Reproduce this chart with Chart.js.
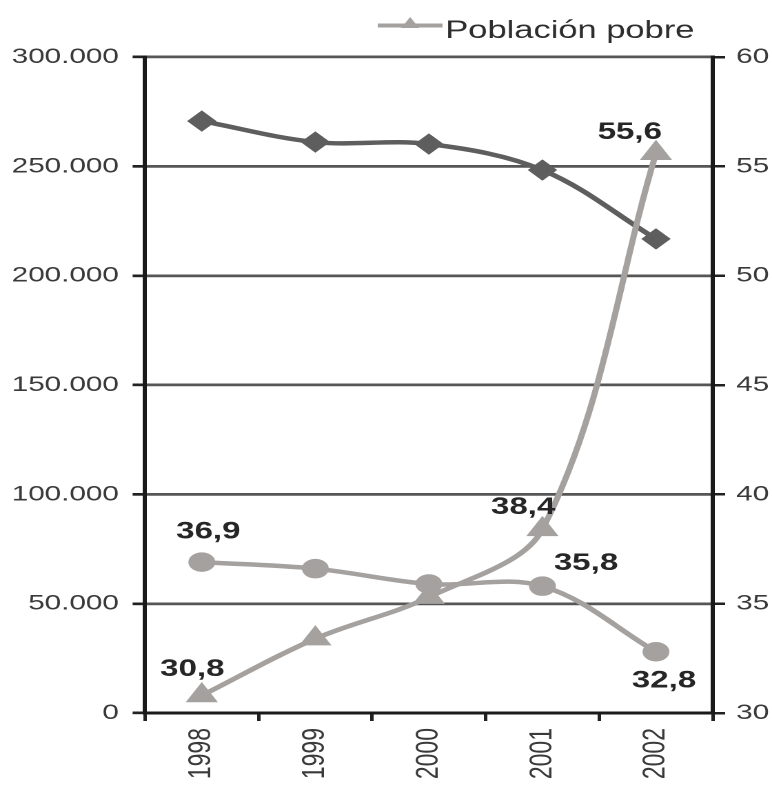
<!DOCTYPE html>
<html lang="es">
<head>
<meta charset="utf-8">
<title>Población pobre</title>
<script src="https://cdn.jsdelivr.net/npm/chart.js@4.4.1/dist/chart.umd.min.js"></script>
<style>
    html, body { margin: 0; padding: 0; background: #fff; overflow: hidden; }
    #wrap { width: 772px; height: 786px; }
    /* the original picture is stretched sideways, so the canvas is too */
    #chart { transform: scaleX(1.3786); transform-origin: 0 0; }
</style>
</head>
<body>
<div id="wrap"><canvas id="chart" width="560" height="786"></canvas></div>
<script>
// values
const years = ['1998', '1999', '2000', '2001', '2002'];
const seriesDiamond = [270700, 261100, 260200, 248300, 216800]; // left axis
const seriesCircle = [36.9, 36.6, 35.9, 35.8, 32.8];             // right axis
const poorPopulation = [30.8, 33.4, 35.3, 38.4, 55.6];           // right axis
const leftTicks = [0, 50000, 100000, 150000, 200000, 250000, 300000];
const rightTicks = [30, 35, 40, 45, 50, 55, 60];
const circleLabelled = [0, 3, 4];
const triangleLabelled = [0, 3, 4];

const DARK = '#5e5e5e';
const LIGHT = '#a4a19f';
const FONT = "'Liberation Sans', Arial, sans-serif";

function fmtThousands(v) {
    return String(v).replace(/\B(?=(\d{3})+(?!\d))/g, '.');
}

function fmtDecimal(v) {
    return v.toFixed(1).replace('.', ',');
}

// data labels next to some of the points
const pointLabels = {
    id: 'pointLabels',
    afterDatasetsDraw(chart) {
        const ctx = chart.ctx;
        // offsets per dataset and point index
        const spots = [
            { ds: 1, idx: circleLabelled, off: [[4.7, -30], [31.6, -23], [5.8, 29]] },
            { ds: 2, idx: triangleLabelled, off: [[-6.9, -26], [-14, -22], [-19, -21]] }
        ];
        ctx.save();
        ctx.font = "bold 24px " + FONT;
        ctx.fillStyle = '#262626';
        ctx.textAlign = 'center';
        ctx.textBaseline = 'middle';
        spots.forEach(s => {
            const meta = chart.getDatasetMeta(s.ds);
            const values = chart.data.datasets[s.ds].data;
            s.idx.forEach((i, k) => {
                const pt = meta.data[i];
                ctx.fillText(fmtDecimal(values[i]), pt.x + s.off[k][0], pt.y + s.off[k][1]);
            });
        });
        ctx.restore();
    }
};

// legend: only the "Población pobre" series is listed
const lineLegend = {
    id: 'lineLegend',
    afterDraw(chart) {
        const ctx = chart.ctx;
        const ds = chart.data.datasets[2];
        ctx.save();
        ctx.strokeStyle = ds.borderColor;
        ctx.lineWidth = 4;
        ctx.beginPath();
        ctx.moveTo(274, 25.5);
        ctx.lineTo(321, 25.5);
        ctx.stroke();
        ctx.fillStyle = ds.pointBackgroundColor;
        ctx.beginPath();
        ctx.moveTo(297.5, 17);
        ctx.lineTo(304, 28);
        ctx.lineTo(291, 28);
        ctx.closePath();
        ctx.fill();
        ctx.font = "25px " + FONT;
        ctx.fillStyle = '#2e2e2e';
        ctx.textAlign = 'left';
        ctx.textBaseline = 'alphabetic';
        ctx.fillText(ds.label, 323, 38);
        ctx.restore();
    }
};

const whiteBg = {
    id: 'whiteBg',
    beforeDraw(chart) {
        const ctx = chart.ctx;
        ctx.save();
        ctx.fillStyle = '#fff';
        ctx.fillRect(0, 0, chart.width, chart.height);
        ctx.restore();
    }
};

new Chart(document.getElementById('chart'), {
    type: 'line',
    data: {
        labels: years,
        datasets: [
            {
                label: 'Serie 1',
                data: seriesDiamond,
                yAxisID: 'y',
                borderColor: DARK,
                backgroundColor: DARK,
                pointBackgroundColor: DARK,
                pointBorderColor: DARK,
                pointStyle: 'rectRot',
                pointRadius: 7.5,
                borderWidth: 4.5,
                tension: 0.35,
                order: 3
            },
            {
                label: 'Serie 2',
                data: seriesCircle,
                yAxisID: 'y1',
                borderColor: LIGHT,
                backgroundColor: LIGHT,
                pointBackgroundColor: LIGHT,
                pointBorderColor: LIGHT,
                pointStyle: 'circle',
                pointRadius: 7.5,
                borderWidth: 4.5,
                tension: 0.35,
                order: 2
            },
            {
                label: 'Población pobre',
                data: poorPopulation,
                yAxisID: 'y1',
                borderColor: LIGHT,
                backgroundColor: LIGHT,
                pointBackgroundColor: LIGHT,
                pointBorderColor: LIGHT,
                pointStyle: 'triangle',
                pointRadius: 9,
                borderWidth: 4.5,
                tension: 0.35,
                order: 1
            }
        ]
    },
    options: {
        responsive: false,
        animation: false,
        devicePixelRatio: 2,
        layout: { padding: { top: 57, left: 0, right: 0, bottom: 0 } },
        plugins: {
            legend: { display: false },
            tooltip: { enabled: false }
        },
        scales: {
            x: {
                offset: true,
                grid: {
                    offset: true,
                    drawOnChartArea: false,
                    tickLength: 8,
                    tickColor: '#222',
                    lineWidth: 2.5
                },
                border: { color: '#1a1a1a', width: 3 },
                ticks: {
                    minRotation: 90,
                    maxRotation: 90,
                    padding: 7,
                    color: '#3a3a3a',
                    font: { family: FONT, size: 23 }
                },
                afterFit(s) { s.height = 73; }
            },
            y: {
                position: 'left',
                min: 0,
                max: 300000,
                afterBuildTicks(s) { s.ticks = leftTicks.map(v => ({ value: v })); },
                grid: {
                    color: '#565656',
                    lineWidth: 2.7,
                    tickLength: 9,
                    tickColor: '#222'
                },
                border: { color: '#1a1a1a', width: 3 },
                ticks: {
                    padding: 10,
                    color: '#3a3a3a',
                    font: { family: FONT, size: 21.5 },
                    callback: v => fmtThousands(v)
                },
                afterFit(s) { s.width = 105.2; }
            },
            y1: {
                position: 'right',
                min: 30,
                max: 60,
                afterBuildTicks(s) { s.ticks = rightTicks.map(v => ({ value: v })); },
                grid: {
                    drawOnChartArea: false,
                    tickLength: 9,
                    tickColor: '#222',
                    lineWidth: 2.5
                },
                border: { color: '#1a1a1a', width: 3 },
                ticks: {
                    padding: 8,
                    color: '#3a3a3a',
                    font: { family: FONT, size: 21.5 }
                },
                afterFit(s) { s.width = 43; }
            }
        }
    },
    plugins: [whiteBg, pointLabels, lineLegend]
});
</script>
</body>
</html>
